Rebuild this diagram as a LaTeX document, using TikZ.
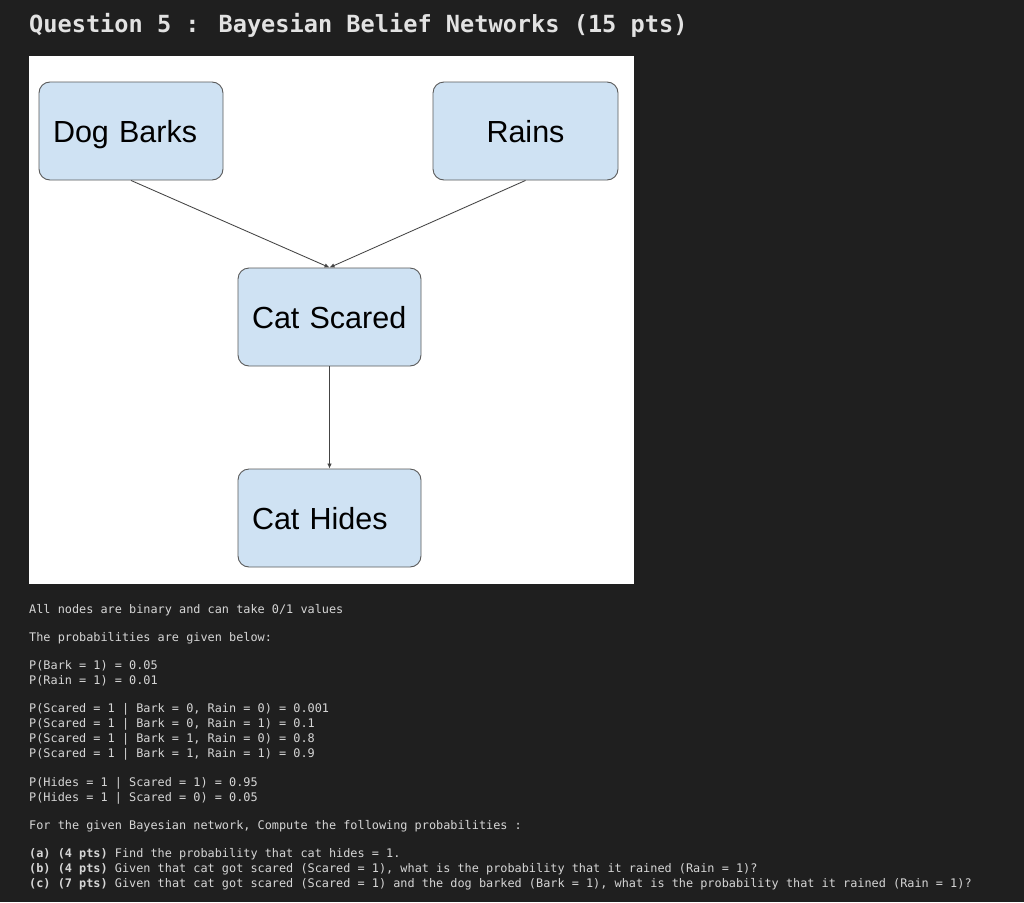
\documentclass[tikz,border=0pt]{standalone}
\usepackage{fontspec}
\setmainfont{Liberation Sans}
\newfontfamily\codefont{DejaVu Sans Mono}
\usetikzlibrary{arrows.meta}
\definecolor{bg}{HTML}{1F1F1F}
\definecolor{txt}{HTML}{D6D6D6}
\definecolor{ttl}{HTML}{E2E2E2}
\definecolor{nodefill}{HTML}{CFE2F3}
\definecolor{nodeline}{HTML}{5A5A5A}
\definecolor{edgecol}{HTML}{444444}
\begin{document}
\begin{tikzpicture}[x=1pt,y=-1pt,
  box/.style={draw=nodeline, line width=0.9pt, fill=nodefill, rounded corners=11pt,
    minimum height=98pt, inner xsep=14pt, inner ysep=0pt, text width=155pt, align=left,
    text height=22pt, text depth=0pt,
    font=\fontsize{30.5}{36}\selectfont, text=black},
  edge/.style={draw=edgecol, line width=0.85pt, -{Latex[length=5pt,width=4.5pt]}},
  code/.style={anchor=base west, inner sep=0pt, text=txt, font=\codefont\fontsize{11.86}{15}\selectfont},
  title/.style={anchor=base west, inner sep=0pt, text=ttl, font=\codefont\bfseries\fontsize{23.6}{28}\selectfont},
]
\fill[bg] (0,0) rectangle (1024,902);
\useasboundingbox (0,0) rectangle (1024,902);

\node[title] (title) at (29,32) {Question 5 : Bayesian Belief Networks (15 pts)};

\fill[white] (29,56) rectangle (634,584);

\node[box, text width=156pt] (dog) at (131,131) {Dog Barks};
\node[box, text width=157pt, align=center] (rain) at (525.5,131) {Rains};
\node[box] (scared) at (329.5,317) {Cat Scared};
\node[box] (hides) at (329.5,518) {Cat Hides};

\draw[edge] (dog.south) -- (scared.north);
\draw[edge] (rain.south) -- (scared.north);
\draw[edge] (scared.south) -- (hides.north);

\node[code] (l1) at (29,613.5) {All nodes are binary and can take 0/1 values};
\node[code] (l2) at (29,641) {The probabilities are given below:};
\node[code] (l3) at (29,669.5) {P(Bark = 1) = 0.05};
\node[code] (l4) at (29,684.5) {P(Rain = 1) = 0.01};
\node[code] (l5) at (29,712.5) {P(Scared = 1 | Bark = 0, Rain = 0) = 0.001};
\node[code] (l6) at (29,727.5) {P(Scared = 1 | Bark = 0, Rain = 1) = 0.1};
\node[code] (l7) at (29,742.5) {P(Scared = 1 | Bark = 1, Rain = 0) = 0.8};
\node[code] (l8) at (29,757.5) {P(Scared = 1 | Bark = 1, Rain = 1) = 0.9};
\node[code] (l9) at (29,786) {P(Hides = 1 | Scared = 1) = 0.95};
\node[code] (l10) at (29,801) {P(Hides = 1 | Scared = 0) = 0.05};
\node[code] (l11) at (29,829.5) {For the given Bayesian network, Compute the following probabilities :};
\node[code] (l12) at (29,857) {{\bfseries (a) (4 pts)} Find the probability that cat hides = 1.};
\node[code] (l13) at (29,872) {{\bfseries (b) (4 pts)} Given that cat got scared (Scared = 1), what is the probability that it rained (Rain = 1)?};
\node[code] (l14) at (29,887) {{\bfseries (c) (7 pts)} Given that cat got scared (Scared = 1) and the dog barked (Bark = 1), what is the probability that it rained (Rain = 1)?};
\end{tikzpicture}
\end{document}
